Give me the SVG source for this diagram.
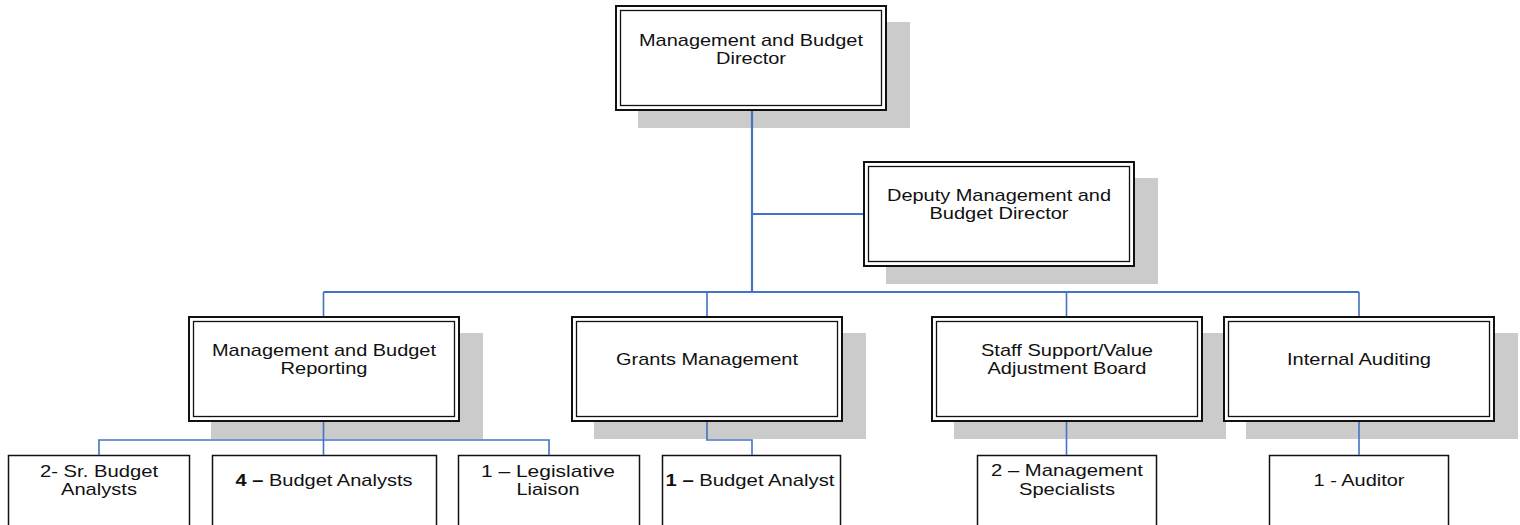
<svg xmlns="http://www.w3.org/2000/svg" width="1520" height="525" viewBox="0 0 1520 525">
<style>
.bg{fill:#ffffff}
.sh{fill:#cbcbcb}
.o{fill:#ffffff;stroke:#111111;stroke-width:2}
.i{fill:none;stroke:#111111;stroke-width:1.3}
.s{fill:#ffffff;stroke:#111111;stroke-width:1.5}
.t{font-family:"Liberation Sans",Arial,sans-serif;font-size:17px;fill:#111111;text-anchor:middle}
.b{font-weight:bold}
.c{fill:none;stroke:#4472c4;stroke-width:1.6}
.c2{fill:none;stroke:#4472c4;stroke-width:2.2}
</style>
<rect class="bg" x="0" y="0" width="1520" height="525"/>

<g id="director">
<rect class="sh" x="638" y="22" width="272" height="106"/>
<rect class="o" x="616" y="6" width="270" height="104"/>
<rect class="i" x="620.5" y="10.5" width="261" height="95"/>
<text class="t"><tspan x="751" y="46" textLength="224" lengthAdjust="spacingAndGlyphs">Management and Budget</tspan><tspan x="751" y="64" textLength="70" lengthAdjust="spacingAndGlyphs">Director</tspan></text>
</g>

<g id="deputy">
<rect class="sh" x="886" y="178" width="272" height="106"/>
<rect class="o" x="864" y="162" width="270" height="104"/>
<rect class="i" x="868.5" y="166.5" width="261" height="95"/>
<text class="t"><tspan x="999" y="201" textLength="224" lengthAdjust="spacingAndGlyphs">Deputy Management and</tspan><tspan x="999" y="219" textLength="139" lengthAdjust="spacingAndGlyphs">Budget Director</tspan></text>
</g>

<g id="mbr">
<rect class="sh" x="211" y="333" width="272" height="106"/>
<rect class="o" x="189" y="317" width="270" height="104"/>
<rect class="i" x="193.5" y="321.5" width="261" height="95"/>
<text class="t"><tspan x="324" y="356" textLength="224" lengthAdjust="spacingAndGlyphs">Management and Budget</tspan><tspan x="324" y="374" textLength="87" lengthAdjust="spacingAndGlyphs">Reporting</tspan></text>
</g>

<g id="grants">
<rect class="sh" x="594" y="333" width="272" height="106"/>
<rect class="o" x="572" y="317" width="270" height="104"/>
<rect class="i" x="576.5" y="321.5" width="261" height="95"/>
<text class="t" x="707" y="365" textLength="182" lengthAdjust="spacingAndGlyphs">Grants Management</text>
</g>

<g id="staff">
<rect class="sh" x="954" y="333" width="272" height="106"/>
<rect class="o" x="932" y="317" width="270" height="104"/>
<rect class="i" x="936.5" y="321.5" width="261" height="95"/>
<text class="t"><tspan x="1067" y="356" textLength="172" lengthAdjust="spacingAndGlyphs">Staff Support/Value</tspan><tspan x="1067" y="374" textLength="159" lengthAdjust="spacingAndGlyphs">Adjustment Board</tspan></text>
</g>

<g id="internal">
<rect class="sh" x="1246" y="333" width="272" height="106"/>
<rect class="o" x="1224" y="317" width="270" height="104"/>
<rect class="i" x="1228.5" y="321.5" width="261" height="95"/>
<text class="t" x="1359" y="365" textLength="144" lengthAdjust="spacingAndGlyphs">Internal Auditing</text>
</g>

<g id="sr-analysts">
<rect class="s" x="8.5" y="455.5" width="181" height="75"/>
<text class="t"><tspan x="99" y="477" textLength="118" lengthAdjust="spacingAndGlyphs">2- Sr. Budget</tspan><tspan x="99" y="495" textLength="76" lengthAdjust="spacingAndGlyphs">Analysts</tspan></text>
</g>

<g id="budget-analysts">
<rect class="s" x="212.5" y="455.5" width="224" height="75"/>
<text class="t" x="324" y="486" textLength="177" lengthAdjust="spacingAndGlyphs"><tspan class="b">4 –</tspan> Budget Analysts</text>
</g>

<g id="liaison">
<rect class="s" x="458.5" y="455.5" width="181" height="75"/>
<text class="t"><tspan x="548" y="477" textLength="134" lengthAdjust="spacingAndGlyphs">1 – Legislative</tspan><tspan x="548" y="495" textLength="63" lengthAdjust="spacingAndGlyphs">Liaison</tspan></text>
</g>

<g id="budget-analyst">
<rect class="s" x="662.5" y="455.5" width="178" height="75"/>
<text class="t" x="750" y="486" textLength="169" lengthAdjust="spacingAndGlyphs"><tspan class="b">1 –</tspan> Budget Analyst</text>
</g>

<g id="mgmt-specialists">
<rect class="s" x="977.5" y="455.5" width="179" height="75"/>
<text class="t"><tspan x="1067" y="476" textLength="152" lengthAdjust="spacingAndGlyphs">2 – Management</tspan><tspan x="1067" y="495" textLength="96" lengthAdjust="spacingAndGlyphs">Specialists</tspan></text>
</g>

<g id="auditor">
<rect class="s" x="1269.5" y="455.5" width="179" height="75"/>
<text class="t" x="1359" y="486" textLength="91" lengthAdjust="spacingAndGlyphs">1 - Auditor</text>
</g>

<g id="connectors">
<path class="c2" d="M752,111 V292 M752,214 H863 M323.5,292 H1359"/>
<path class="c" d="M323.5,292 V316 M707,292 V316 M1066.5,292 V316 M1359,292 V316"/>
<path class="c" d="M323.5,422 V440 M99,455 V440 H549 V455 M323.5,440 V455"/>
<path class="c" d="M707,422 V440 H752 V455"/>
<path class="c" d="M1066.5,422 V455"/>
<path class="c" d="M1359,422 V455"/>
</g>
</svg>
